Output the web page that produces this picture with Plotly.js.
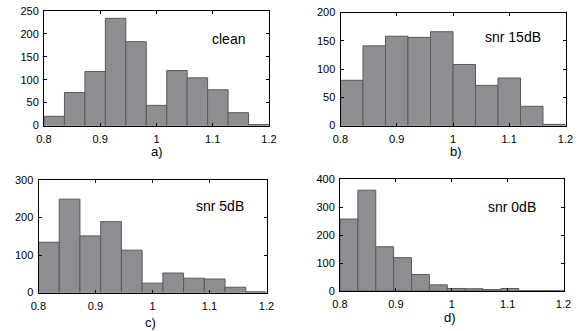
<!DOCTYPE html>
<html><head><meta charset="utf-8">
<script src="https://cdn.plot.ly/plotly-3.0.1.min.js"></script>
<style>html,body{margin:0;padding:0;background:#fff}#chart{width:585px;height:331px}</style>
</head><body><div id="chart"></div>
<script>
// Histogram counts
const countsA = [20, 72, 118, 234, 183, 44, 120, 104, 78, 28, 2];
const countsB = [80, 141, 158, 156, 166, 108, 71, 84, 34, 2];
const countsC = [134, 249, 151, 189, 113, 25, 52, 38, 36, 14, 2];
const countsD = [257, 360, 158, 119, 59, 22, 9, 8, 5, 9, 1, 1, 1];
const binStart = 0.8;
const binWidths = [0.4/11, 0.04, 0.4/11, 0.032];
const panelLabels = ['clean', 'snr 15dB', 'snr 5dB', 'snr 0dB'];
const subLabels = ['a)', 'b)', 'c)', 'd)'];
const yTicks = [[0,50,100,150,200,250],[0,50,100,150,200],[0,100,200,300],[0,100,200,300,400]];
const yMax = [250, 200, 300, 400];
const xTicks = [0.8, 0.9, 1, 1.1, 1.2];
const xTickText = ['0.8', '0.9', '1', '1.1', '1.2'];

const W = 585, H = 331;
const boxes = [
  {x0: 44, x1: 269, y0: 11, y1: 125.5},
  {x0: 340.5, x1: 565.5, y0: 12.5, y1: 125.5},
  {x0: 38.5, x1: 266.5, y0: 180, y1: 292.5},
  {x0: 340, x1: 563.5, y0: 179, y1: 291}
];
// pixel centres of the in-panel and sub-caption texts
const panelLabelPos = [[228, 39], [513, 37], [220, 206], [512, 207]];
const subLabelPos = [[157, 152], [456, 152], [150, 322], [450, 317]];
const allCounts = [countsA, countsB, countsC, countsD];

const traces = [];
const layout = {
  width: W, height: H, margin: {l:0, r:0, t:0, b:0},
  paper_bgcolor: '#fff', plot_bgcolor: '#fff', showlegend: false,
  font: {family: 'Liberation Sans, Arial, sans-serif', color: '#000', size: 11},
  annotations: []
};
allCounts.forEach((c, k) => {
  const w = binWidths[k];
  const xs = c.map((_, i) => binStart + (i + 0.5) * w);
  const sfx = k === 0 ? '' : String(k + 1);
  traces.push({
    type: 'bar', x: xs, y: c, width: w,
    xaxis: 'x' + sfx, yaxis: 'y' + sfx,
    marker: {color: '#8e8e92', line: {color: '#5a5a5a', width: 1}},
    hoverinfo: 'skip', cliponaxis: true
  });
  const b = boxes[k];
  const axCommon = {
    showgrid: false, zeroline: false, showline: true, linecolor: '#000', linewidth: 1,
    mirror: 'ticks', ticks: 'inside', ticklen: 3, tickcolor: '#000',
    tickfont: {size: 11, color: '#000'}
  };
  layout['xaxis' + sfx] = Object.assign({}, axCommon, {
    domain: [b.x0 / W, b.x1 / W], range: [0.8, 1.2], anchor: 'y' + sfx,
    tickvals: xTicks, ticktext: xTickText, ticklabelstandoff: 3
  });
  layout['yaxis' + sfx] = Object.assign({}, axCommon, {
    domain: [1 - b.y1 / H, 1 - b.y0 / H], range: [0, yMax[k]], anchor: 'x' + sfx,
    tickvals: yTicks[k], ticklabelstandoff: 2
  });
  layout.annotations.push({
    xref: 'paper', yref: 'paper', x: panelLabelPos[k][0] / W, y: 1 - panelLabelPos[k][1] / H,
    xanchor: 'center', yanchor: 'middle',
    text: panelLabels[k], showarrow: false, font: {size: 14, color: '#000'}
  });
  layout.annotations.push({
    xref: 'paper', yref: 'paper', x: subLabelPos[k][0] / W, y: 1 - subLabelPos[k][1] / H,
    xanchor: 'center', yanchor: 'middle',
    text: subLabels[k], showarrow: false, font: {size: 13, color: '#000'}
  });
});
layout.bargap = 0;
Plotly.newPlot('chart', traces, layout, {staticPlot: true});
</script></body></html>
